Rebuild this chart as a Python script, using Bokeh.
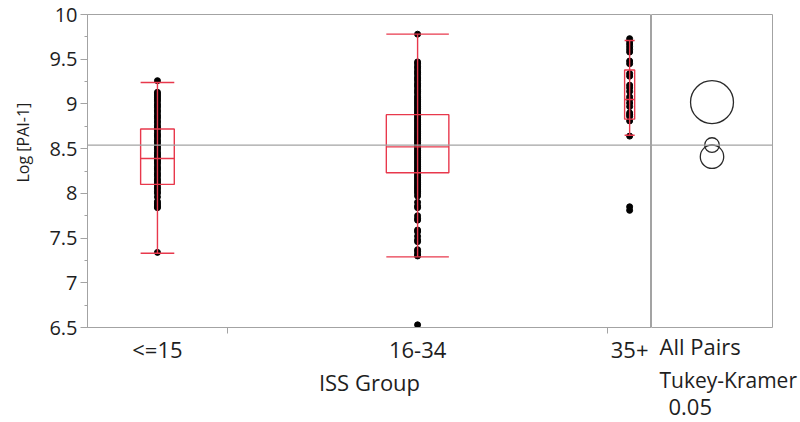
from bokeh.plotting import figure
from bokeh.models import FixedTicker, Span, Range1d, Title
from bokeh.layouts import row
from bokeh.embed import file_html
from bokeh.resources import INLINE

# ---------------- data ----------------
groups = ["<=15", "16-34", "35+"]
group_n = [64, 174, 20]

pts_le15 = [9.26, 9.13, 9.11, 9.09, 9.07, 9.05, 9.03, 9.00, 8.98, 8.96, 8.93, 8.91,
            8.88, 8.86, 8.84, 8.81, 8.79, 8.76, 8.74, 8.72, 8.70, 8.67, 8.65, 8.63,
            8.60, 8.58, 8.56, 8.53, 8.51, 8.49, 8.46, 8.44, 8.42, 8.40, 8.39, 8.37,
            8.35, 8.33, 8.30, 8.28, 8.26, 8.23, 8.21, 8.19, 8.16, 8.14, 8.12, 8.10,
            8.07, 8.05, 8.02, 8.00, 7.96, 7.91, 7.89, 7.87, 7.85, 7.84, 7.34]
pts_16_34 = [9.78, 9.47, 9.45, 9.42, 9.40, 9.37, 9.35, 9.33, 9.30, 9.28, 9.26, 9.23,
             9.21, 9.19, 9.16, 9.14, 9.12, 9.09, 9.07, 9.05, 9.03, 9.01, 8.99, 8.97,
             8.95, 8.93, 8.91, 8.89, 8.87, 8.85, 8.83, 8.81, 8.79, 8.77, 8.75, 8.73,
             8.71, 8.69, 8.67, 8.65, 8.63, 8.61, 8.59, 8.57, 8.55, 8.53, 8.52, 8.50,
             8.48, 8.46, 8.44, 8.42, 8.40, 8.38, 8.36, 8.34, 8.32, 8.30, 8.28, 8.26,
             8.24, 8.22, 8.20, 8.18, 8.16, 8.14, 8.12, 8.10, 8.08, 8.06, 8.04, 8.02,
             8.00, 7.97, 7.90, 7.86, 7.84, 7.75, 7.72, 7.70, 7.59, 7.57, 7.52, 7.48,
             7.46, 7.37, 7.35, 7.32, 7.30, 6.53]
pts_35 = [9.73, 9.70, 9.67, 9.64, 9.61, 9.58, 9.48, 9.45, 9.34, 9.31, 9.21, 9.18,
          9.14, 9.08, 9.05, 9.01, 8.97, 8.90, 8.88, 8.86, 8.81, 8.64, 7.85, 7.81]
points = [pts_le15, pts_16_34, pts_35]

q1 = [8.10, 8.23, 8.83]
median = [8.39, 8.52, 9.05]
q3 = [8.72, 8.88, 9.38]
whisk_lo = [7.33, 7.29, 8.65]
whisk_hi = [9.24, 9.78, 9.71]

grand_mean = 8.54
group_means = [8.41, 8.54, 9.02]
circle_radius = [0.131, 0.082, 0.24]

y_ticks = [6.5, 7, 7.5, 8, 8.5, 9, 9.5, 10]
y_tick_labels = ["6.5", "7", "7.5", "8", "8.5", "9", "9.5", "10"]
y_minor = [6.75, 7.25, 7.75, 8.25, 8.75, 9.25, 9.75]

x_title = "ISS Group"
y_title = "Log [PAI-1]"
cmp_texts = ["All Pairs", "Tukey-Kramer", "0.05"]

# ---------------- layout / style ----------------
RED = "#e8384c"
GRAY = "#a3a3a3"
TXT = "#1e1e1e"
FONT = "Open Sans"
FS = "22px"
H = 420
TOP = 14
BOTTOM = H - 327

box_half = [7.7, 14.3, 2.3]          # half box widths (x units)

bounds = [0]
for n in group_n:
    bounds.append(bounds[-1] + n)
total = bounds[-1]
centers = [(bounds[i] + bounds[i + 1]) / 2 for i in range(len(groups))]

yr = Range1d(6.5, 10)

# ---------------- main panel ----------------
p = figure(width=651, height=H, output_backend="svg", toolbar_location=None,
           x_range=Range1d(0, total), y_range=yr,
           min_border_left=83, min_border_right=0, min_border_top=TOP,
           min_border_bottom=BOTTOM)
p.grid.visible = False
p.outline_line_color = GRAY
p.outline_line_width = 1

# y axis
p.yaxis.ticker = FixedTicker(ticks=y_ticks, minor_ticks=y_minor)
p.yaxis.major_label_overrides = {t: l for t, l in zip(y_ticks, y_tick_labels)}
p.yaxis.major_tick_out = 7
p.yaxis.major_tick_in = 0
p.yaxis.minor_tick_out = 3
p.yaxis.minor_tick_in = 0
p.yaxis.axis_line_color = GRAY
p.yaxis.major_tick_line_color = GRAY
p.yaxis.minor_tick_line_color = GRAY
p.yaxis.major_label_text_font = FONT
p.yaxis.major_label_text_font_size = "20px"
p.yaxis.major_label_text_color = TXT
p.yaxis.major_label_standoff = 3

p.add_layout(Title(text=y_title, align="left", offset=145, vertical_align="top",
                   text_font=FONT, text_font_size="16px", text_font_style="normal",
                   text_color=TXT, standoff=22), "left")

# x axis
p.xaxis.ticker = FixedTicker(ticks=centers, minor_ticks=bounds[1:-1])
p.xaxis.major_label_overrides = {c: g for c, g in zip(centers, groups)}
p.xaxis.major_tick_out = 0
p.xaxis.major_tick_in = 0
p.xaxis.minor_tick_out = 6
p.xaxis.minor_tick_in = 0
p.xaxis.axis_line_color = GRAY
p.xaxis.minor_tick_line_color = GRAY
p.xaxis.major_label_text_font = FONT
p.xaxis.major_label_text_font_size = FS
p.xaxis.major_label_text_color = TXT
p.xaxis.major_label_standoff = 0
p.xaxis.axis_label = x_title
p.xaxis.axis_label_text_font = FONT
p.xaxis.axis_label_text_font_size = FS
p.xaxis.axis_label_text_font_style = "normal"
p.xaxis.axis_label_text_color = TXT
p.xaxis.axis_label_standoff = 0

p.add_layout(Span(location=grand_mean, dimension="width", line_color=GRAY, line_width=1.3))

# points
for i, pts in enumerate(points):
    p.scatter([centers[i]] * len(pts), pts, size=6, color="black")

# box plots
left = [c - h for c, h in zip(centers, box_half)]
right = [c + h for c, h in zip(centers, box_half)]
p.segment(centers, whisk_lo, centers, whisk_hi, line_color=RED, line_width=1.4)
p.quad(left=left, right=right, bottom=q1, top=q3, fill_color=None,
       line_color=RED, line_width=1.4)
p.segment(left, median, right, median, line_color=RED, line_width=1.4)
p.segment(left, whisk_hi, right, whisk_hi, line_color=RED, line_width=1.4)
p.segment(left, whisk_lo, right, whisk_lo, line_color=RED, line_width=1.4)

# ---------------- comparison circles panel ----------------
q = figure(width=147, height=H, output_backend="svg", toolbar_location=None,
           x_range=Range1d(0, 1), y_range=yr, x_axis_location=None,
           y_axis_location=None, min_border_left=0, min_border_right=26,
           min_border_top=TOP, min_border_bottom=BOTTOM)
q.grid.visible = False
q.outline_line_color = GRAY
q.outline_line_width = 1
q.add_layout(Span(location=grand_mean, dimension="width", line_color=GRAY, line_width=1.3))
q.circle([0.5] * len(group_means), group_means, radius=circle_radius,
         radius_dimension="y", fill_color=None, line_color="#2a2a2a", line_width=1.3)

offsets = [8, 8, 17]
sizes = [FS, "21px", FS]
for t, off, fs in zip(cmp_texts, offsets, sizes):
    q.add_layout(Title(text=t, align="left", offset=off, text_font=FONT,
                       text_font_size=fs, text_font_style="normal",
                       text_color=TXT, standoff=3), "below")

layout = row(p, q)
open("out.html", "w").write(file_html(layout, INLINE))
